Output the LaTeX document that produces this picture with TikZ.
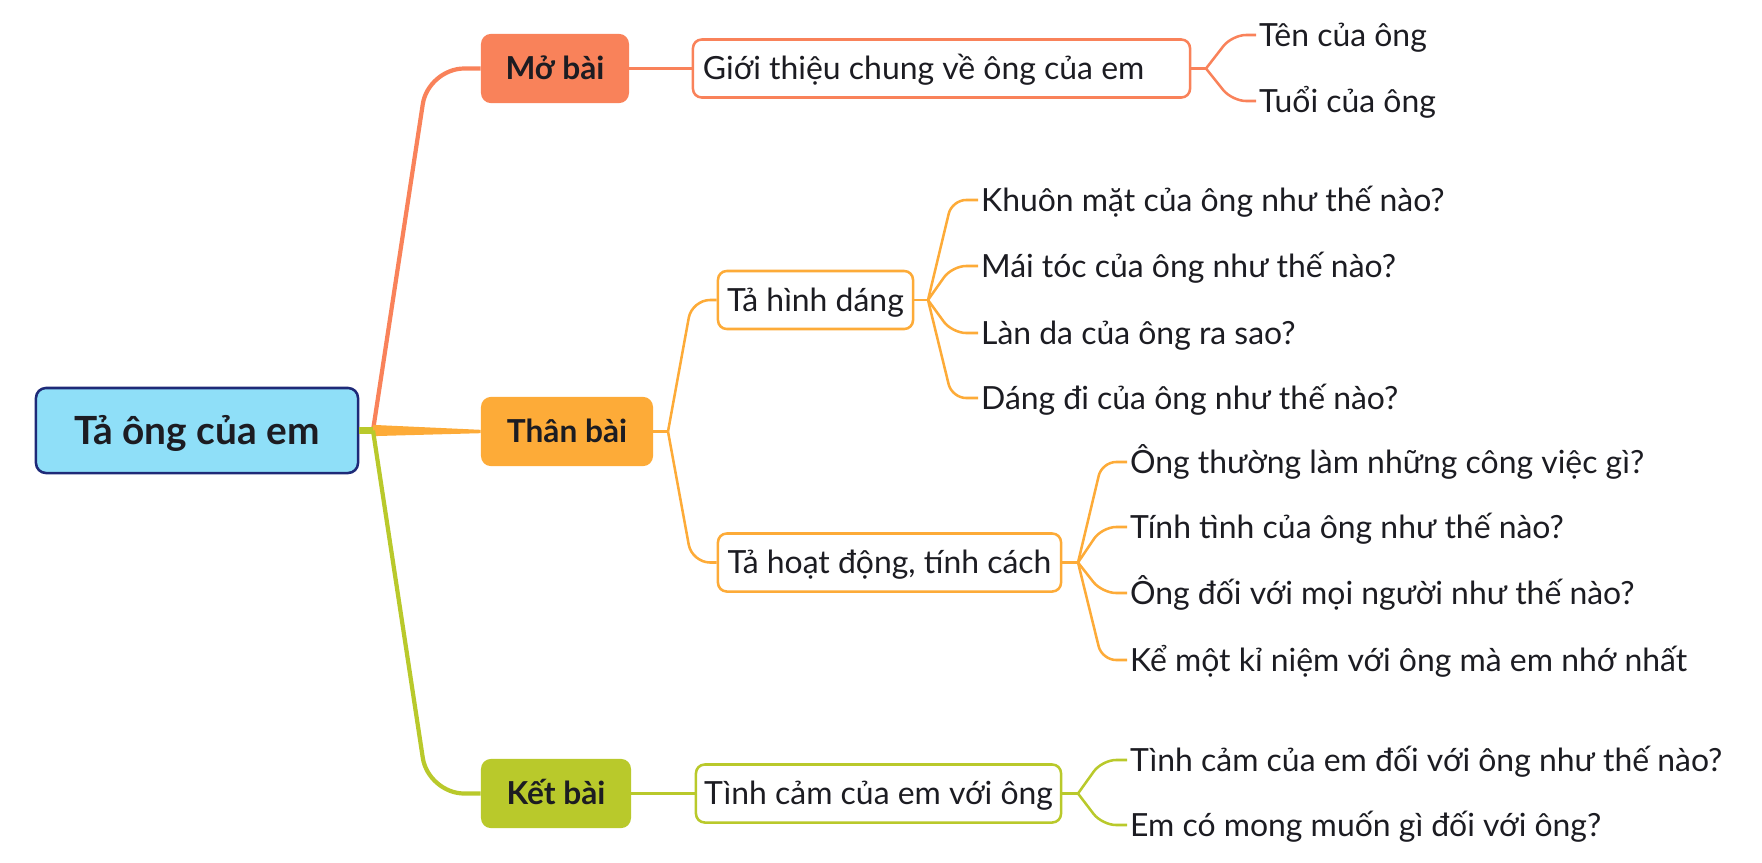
\documentclass[tikz,border=0pt]{standalone}
\usepackage{fontspec}
\setmainfont{Lato}
\usepackage{tikz}
\definecolor{moc}{HTML}{F9825A}
\definecolor{thanc}{HTML}{FDAB38}
\definecolor{ketc}{HTML}{B9C92B}
\definecolor{rootfill}{HTML}{8FDFF8}
\definecolor{rootdraw}{HTML}{1E2A78}
\definecolor{ink}{HTML}{1C1C22}

\begin{document}
\begin{tikzpicture}[x=0.025cm,y=-0.025cm,
  txt/.style={text=ink,font=\fontsize{22.7}{25}\selectfont,text height=21pt,text depth=4.8pt,inner sep=0.07cm,anchor=west},
  mainbox/.style={rounded corners=0.25cm,text=ink,font=\bfseries\fontsize{22.5}{25}\selectfont,text height=21pt,text depth=4.8pt,minimum height=1.73cm,inner sep=0pt},
  subbox/.style={draw,line width=1.8pt,rounded corners=0.22cm,fill=white,text=ink,font=\fontsize{22.7}{25}\selectfont,text height=21pt,text depth=4.8pt,minimum height=1.45cm,inner sep=0pt},
  trunk/.style={line width=3pt,rounded corners=0.9cm},
  twig/.style={line width=1.8pt,rounded corners=0.35cm}]
\useasboundingbox (0,0) rectangle (1762,862);

\draw (197,430.5) node[draw=rootdraw,fill=rootfill,line width=1.8pt,rounded corners=0.25cm,minimum width=8.05cm,minimum height=2.125cm,text=ink,font=\bfseries\fontsize{27.6}{30}\selectfont,text height=25.5pt,text depth=5.8pt] (root) {Tả ông của em};

\draw (555,68.5) node[mainbox,fill=moc,minimum width=3.7cm] (mo) {Mở bài};
\draw (567,431.5) node[mainbox,fill=thanc,minimum width=4.3cm] (than) {Thân bài};
\draw (556,793.5) node[mainbox,fill=ketc,minimum width=3.75cm] (ket) {Kết bài};

\draw (941.5,68.5) node[subbox,draw=moc,minimum width=12.425cm,text width=11.925cm,inner xsep=0.25cm,align=flush left] (gioi) {Giới thiệu chung về ông của em};
\draw (815.5,300) node[subbox,draw=thanc,minimum width=4.875cm] (hinh) {Tả hình dáng};
\draw (889.5,562.5) node[subbox,draw=thanc,minimum width=8.575cm] (hoat) {Tả hoạt động, tính cách};
\draw (878.5,793.5) node[subbox,draw=ketc,minimum width=9.125cm] (tcam) {Tình cảm của em với ông};

\draw (1256,35) node[txt] (ten) {Tên của ông};
\draw (1256,101) node[txt] (tuoi) {Tuổi của ông};
\draw (978,200) node[txt] (khuon) {Khuôn mặt của ông như thế nào?};
\draw (978,266) node[txt] (mai) {Mái tóc của ông như thế nào?};
\draw (978,333) node[txt] (lan) {Làn da của ông ra sao?};
\draw (978,398) node[txt] (dang) {Dáng đi của ông như thế nào?};
\draw (1127,462) node[txt] (viec) {Ông thường làm những công việc gì?};
\draw (1127,527) node[txt] (tinh) {Tính tình của ông như thế nào?};
\draw (1127,593) node[txt] (moinguoi) {Ông đối với mọi người như thế nào?};
\draw (1127,660) node[txt] (kiniem) {Kể một kỉ niệm với ông mà em nhớ nhất};
\draw (1127,760) node[txt] (camnghi) {Tình cảm của em đối với ông như thế nào?};
\draw (1127,825) node[txt] (mongmuon) {Em có mong muốn gì đối với ông?};

\coordinate (fork) at (373,430.5);
\coordinate (fthan) at (668,431.5);
\coordinate (fgioi) at (1206,68.5);
\coordinate (fhinh) at (928,300);
\coordinate (fhoat) at (1078,562.5);
\coordinate (ftcam) at (1078,793.5);

\draw[trunk,moc] (fork) -- ([xshift=1.38cm]fork |- mo.west) -- (mo.west);
\fill[thanc] ([yshift=-4pt]fork) -- ([yshift=-1.2pt]than.west) -- ([yshift=1.2pt]than.west) -- ([yshift=4pt]fork) -- cycle;
\draw[trunk,ketc] (fork) -- ([xshift=1.38cm]fork |- ket.west) -- (ket.west);
\draw[ketc,line width=5pt] (root.east) -- (fork);

\draw[twig,moc] (mo.east) -- (gioi.west);
\draw[twig,ketc] (ket.east) -- (tcam.west);
\draw[twig,thanc] (than.east) -- (fthan);
\foreach \c in {hinh,hoat}
  \draw[twig,thanc,rounded corners=0.45cm] (fthan) -- ([xshift=0.6cm]fthan |- \c.west) -- (\c.west);

\draw[twig,moc] (gioi.east) -- (fgioi);
\foreach \c in {ten,tuoi}
  \draw[twig,moc] (fgioi) -- ([xshift=0.65cm]fgioi |- \c.west) -- (\c.west);
\draw[twig,thanc] (hinh.east) -- (fhinh);
\foreach \c in {khuon,mai,lan,dang}
  \draw[twig,thanc] (fhinh) -- ([xshift=0.6cm]fhinh |- \c.west) -- (\c.west);
\draw[twig,thanc] (hoat.east) -- (fhoat);
\foreach \c in {viec,tinh,moinguoi,kiniem}
  \draw[twig,thanc] (fhoat) -- ([xshift=0.6cm]fhoat |- \c.west) -- (\c.west);
\draw[twig,ketc] (tcam.east) -- (ftcam);
\foreach \c in {camnghi,mongmuon}
  \draw[twig,ketc] (ftcam) -- ([xshift=0.6cm]ftcam |- \c.west) -- (\c.west);
\end{tikzpicture}
\end{document}
